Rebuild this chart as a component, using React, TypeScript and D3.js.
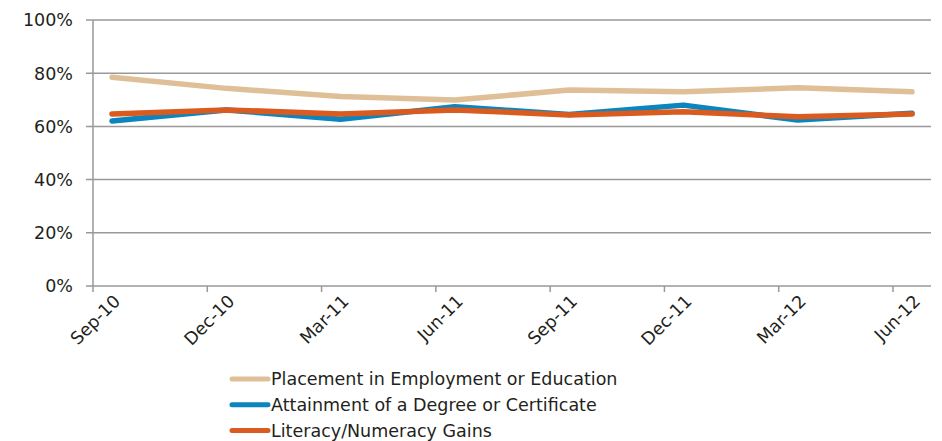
import React, { useEffect, useRef } from 'react';
import * as d3 from 'd3';

const quarters = ['Sep-10', 'Dec-10', 'Mar-11', 'Jun-11', 'Sep-11', 'Dec-11', 'Mar-12', 'Jun-12'];
const placement = [78.5, 74.3, 71.2, 69.9, 73.7, 73.0, 74.5, 73.0];
const attainment = [62.0, 66.2, 62.7, 67.4, 64.5, 68.0, 62.4, 64.9];
const literacy = [64.7, 66.2, 64.7, 66.2, 64.3, 65.5, 63.6, 64.7];
const yTicks = [0, 20, 40, 60, 80, 100];

const seriesList = [
  { name: 'Placement in Employment or Education', values: placement, color: '#dfbf97' },
  { name: 'Attainment of a Degree or Certificate', values: attainment, color: '#0a85bd' },
  { name: 'Literacy/Numeracy Gains', values: literacy, color: '#da5b20' },
];

const App = () => {
  const svgRef = useRef<SVGSVGElement>(null);

  useEffect(() => {
    drawChart();
  }, []);

  const drawChart = () => {
    const width = 942;
    const height = 441;
    const font = '"DejaVu Sans", Arial, sans-serif';

    const svg = d3.select(svgRef.current);
    svg.selectAll('*').remove();
    svg.attr('width', width).attr('height', height);

    const axisLeft = 93;
    const axisRight = 931;
    const tickOffset = 19;

    const xScale = d3.scalePoint<string>().domain(quarters).range([112, 912]);
    const yScale = d3.scaleLinear().domain([0, 100]).range([286, 20]);

    // gridlines
    svg
      .append('g')
      .selectAll('line')
      .data(yTicks)
      .enter()
      .append('line')
      .attr('x1', axisLeft - 7)
      .attr('x2', axisRight)
      .attr('y1', d => yScale(d))
      .attr('y2', d => yScale(d))
      .attr('stroke', '#999')
      .attr('stroke-width', 1.5);

    // y axis line
    svg
      .append('line')
      .attr('x1', axisLeft)
      .attr('x2', axisLeft)
      .attr('y1', yScale(100))
      .attr('y2', yScale(0))
      .attr('stroke', '#999')
      .attr('stroke-width', 1.5);

    // y labels
    svg
      .append('g')
      .selectAll('text')
      .data(yTicks)
      .enter()
      .append('text')
      .attr('x', 73)
      .attr('y', d => yScale(d))
      .attr('dy', '0.36em')
      .attr('text-anchor', 'end')
      .attr('font-family', font)
      .attr('font-size', 17.5)
      .attr('fill', '#231f20')
      .text(d => `${d}%`);

    // x tick marks
    svg
      .append('g')
      .selectAll('line')
      .data(quarters)
      .enter()
      .append('line')
      .attr('x1', d => (xScale(d) as number) - tickOffset)
      .attr('x2', d => (xScale(d) as number) - tickOffset)
      .attr('y1', yScale(0))
      .attr('y2', yScale(0) + 6)
      .attr('stroke', '#999')
      .attr('stroke-width', 1.5);

    // x labels
    svg
      .append('g')
      .selectAll('text')
      .data(quarters)
      .enter()
      .append('text')
      .attr('transform', d => `translate(${(xScale(d) as number) + 5},${yScale(0) + 12}) rotate(-45)`)
      .attr('text-anchor', 'end')
      .attr('dy', '0.35em')
      .attr('font-family', font)
      .attr('font-size', 17.5)
      .attr('fill', '#231f20')
      .text(d => d);

    const line = d3
      .line<number>()
      .x((_, i) => xScale(quarters[i]) as number)
      .y(d => yScale(d));

    svg
      .append('g')
      .selectAll('path')
      .data(seriesList)
      .enter()
      .append('path')
      .attr('d', d => line(d.values))
      .attr('fill', 'none')
      .attr('stroke', d => d.color)
      .attr('stroke-width', 5.5)
      .attr('stroke-linecap', 'round')
      .attr('stroke-linejoin', 'round');

    // legend
    const legend = svg
      .append('g')
      .selectAll('g')
      .data(seriesList)
      .enter()
      .append('g')
      .attr('transform', (_, i) => `translate(230,${379 + i * 25.8})`);

    legend
      .append('line')
      .attr('x1', 2)
      .attr('x2', 38)
      .attr('stroke', d => d.color)
      .attr('stroke-width', 5)
      .attr('stroke-linecap', 'round');

    legend
      .append('text')
      .attr('x', 41)
      .attr('dy', '0.36em')
      .attr('font-family', font)
      .attr('font-size', 17.5)
      .attr('fill', '#231f20')
      .text(d => d.name);
  };

  return (
    <svg ref={svgRef} style={{ position: 'absolute', left: 0, top: 0 }}></svg>
  );
};

export default App;
